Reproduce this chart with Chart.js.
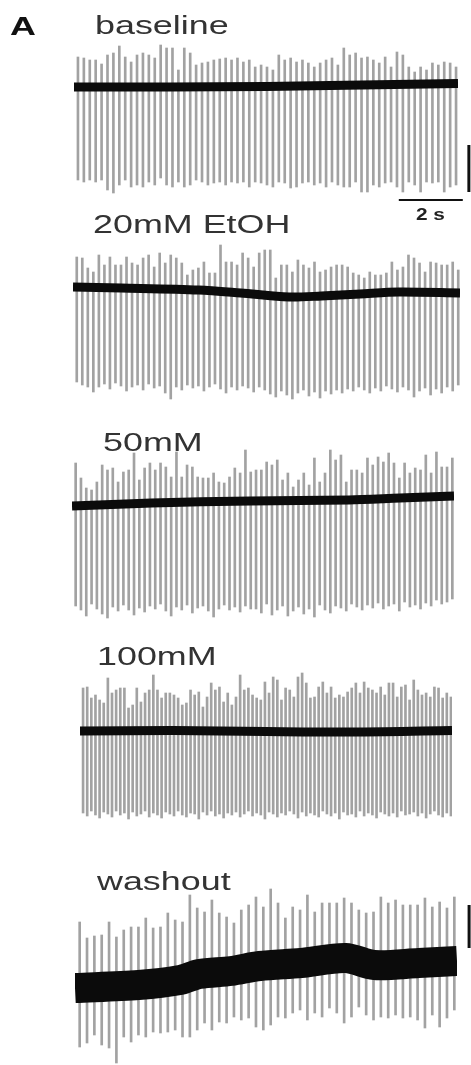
<!DOCTYPE html>
<html>
<head>
<meta charset="utf-8">
<script src="https://cdn.jsdelivr.net/npm/chart.js@4.4.0/dist/chart.umd.min.js"></script>
<style>
  html, body { margin: 0; padding: 0; background: #fff; }
  body { position: relative; width: 471px; height: 1065px; overflow: hidden; font-family: "Liberation Sans", Arial, sans-serif; }
  canvas { position: absolute; left: 0; }
  .lbl { position: absolute; z-index: 2; font-size: 26px; line-height: 26px; color: #333; white-space: nowrap; transform: scaleX(1.38); transform-origin: 0 0; }
  .panel { font-weight: bold; color: #111; }
  .bar-lbl { font-size: 16px; line-height: 16px; font-weight: bold; color: #222; transform: scaleX(1.3); }
</style>
</head>
<body>
<div class="lbl panel" style="left:10px;top:13px">A</div>
<div class="lbl" style="left:95px;top:12px">baseline</div>
<div class="lbl" style="left:93px;top:211px">20mM EtOH</div>
<div class="lbl" style="left:103px;top:429px">50mM</div>
<div class="lbl" style="left:97px;top:643px">100mM</div>
<div class="lbl" style="left:97px;top:868px">washout</div>
<div class="lbl bar-lbl" style="left:416px;top:207px">2 s</div>

<canvas id="trace0"></canvas>
<canvas id="trace1"></canvas>
<canvas id="trace2"></canvas>
<canvas id="trace3"></canvas>
<canvas id="trace4"></canvas>

<script>
// each sweep is 12 s long, amplitudes in a.u. (0 = resting level at sweep start)
const SWEEP = 12;

// baseline
const baseUp = [30,29,27,27,23,32,34,41,30,25, 32,34,32,29,42,39,39,17,39,34, 22,24,25,27,28,29,27,29,25,27,
  20,22,20,17,32,27,29,25,27,24, 20,24,27,29,22,39,32,34,29,30, 27,24,30,20,35,32,20,15,20,17, 24,22,25,24,20];
const baseDown = [-93,-95,-93,-95,-93,-103,-106,-98,-93,-100, -98,-100,-95,-98,-91,-98,-100,-95,-100,-98,
  -93,-95,-98,-96,-95,-98,-95,-96,-95,-100, -95,-96,-98,-100,-95,-96,-101,-100,-96,-95,
  -98,-96,-100,-95,-98,-100,-100,-95,-105,-105, -98,-100,-96,-95,-100,-105,-95,-98,-105,-95, -96,-95,-105,-100,-98];
const baseDriftT = [0, 3, 6, 9, 12];
const baseDriftV = [0, 0, 0.5, 2, 3.5];

// 20 mM EtOH
const e20Up = [30,29,19,15,32,22,30,22,22,30, 24,22,29,32,20,34,24,32,29,24, 12,17,19,25,14,14,42,25,25,22,
  34,29,20,34,37,37,9,22,22,15, 27,22,19,25,15,17,20,22,22,20, 14,12,9,15,12,12,14,25,17,20, 32,29,24,15,25,24,22,22,25,17];
const e20Down = [-95,-98,-100,-105,-100,-97,-102,-96,-99,-104, -100,-98,-103,-97,-101,-99,-106,-112,-100,-103,
  -98,-101,-99,-104,-100,-97,-102,-106,-100,-103, -99,-101,-105,-100,-103,-107,-110,-104,-108,-112,
  -106,-103,-109,-105,-111,-104,-107,-103,-106,-102, -104,-100,-103,-106,-101,-104,-99,-102,-105,-100,
  -103,-110,-104,-101,-108,-102,-106,-100,-104,-98];
const e20DriftT = [0, 1.5, 3.9, 5.2, 6.7, 7.7, 8.9, 10.1, 12];
const e20DriftV = [0, -1, -3, -6, -10, -9, -7, -5, -6];

// 50 mM
const e50Up = [43,28,18,16,24,41,36,38,24,34, 36,53,26,38,43,36,43,39,29,54, 29,41,39,29,28,28,33,24,23,29,
  38,33,56,34, 36,36,44,41,46,26, 33,19,26,33,21,48,24,33,56,46, 51,24,36,36,33,48,41,49,44,53,
  43,28,43,33,38,36,51,33,54,39, 39,48];
const e50Down = [-100,-104,-110,-98,-103,-108,-112,-101,-105,-99, -104,-109,-102,-106,-100,-103,-98,-105,-110,-101,
  -104,-99,-107,-102,-100,-105,-111,-103,-99,-104, -101,-106,-100,-103, -103,-107,-98,-109,-104,-100,
  -110,-105,-101,-108,-103,-111,-99,-104,-107,-100, -102,-105,-98,-101,-104,-99,-102,-97,-103,-100,
  -98,-105,-96,-101,-99,-103,-97,-100,-94,-98, -96,-93];
const e50DriftT = [0, 2.5, 5.6, 8.7, 10.3, 12];
const e50DriftV = [0, 3, 5, 6, 8, 10];

// 100 mM
const e100Up = [43,44,33,36,31,28,53,38,41,43, 43,23,26,43,29,38,41,56,41,33, 38,38,36,33,26,28,41,36,39,24,
  34,48,41,44,29,38,26,34,56,41, 43,36,33, 31,49,38,54,51,31,43, 41,34,54,58,48,33,34,44,49,38,
  44,33,36,34,39,43,48,38,49,43, 41,38,44,36,48,48,34,44,46,31, 51,41,36,38,34,44,43,33,38,34];
const e100Down = [-82,-85,-80,-84,-87,-81,-83,-86,-80,-84, -82,-88,-81,-85,-83,-80,-86,-82,-84,-87,
  -81,-83,-85,-80,-84,-86,-82,-83,-88,-81, -84,-80,-85,-83,-87,-82,-84,-81,-86,-83,
  -80,-85,-82,-84,-88,-81,-83,-86,-82,-84, -80,-83,-87,-81,-85,-82,-84,-86,-80,-83,
  -85,-82,-88,-81,-84,-83,-86,-80,-85,-82, -84,-87,-81,-83,-85,-82,-86,-80,-84,-83,
  -81,-85,-82,-87,-83,-80,-84,-86,-82,-85];
const e100DriftT = [0, 3, 6, 9, 12];
const e100DriftV = [0, 0.5, -0.5, -1, 0.5];

// washout
const washUp = [66,50,52,53,66,51,58,61,61,70, 60,61,75,68,66,93,80,76,88,75, 71,65,78,83,91,81,99,85,70,81,
  78,93,76,85,85,85,90,85,78,75, 76,91,85,88,83,83,83,90,81,86, 80,91];
const washDown = [-59,-55,-47,-57,-60,-75,-49,-54,-47,-49, -44,-45,-44,-42,-49,-49,-42,-35,-42,-34,
  -35,-29,-32,-30,-39,-42,-37,-29,-30,-25, -22,-32,-25,-29,-20,-25,-35,-29,-19,-27,
  -32,-29,-30,-27,-30,-29,-32,-40,-27,-39, -30,-22];
const washDriftT = [0, 2, 3.3, 3.9, 4.9, 5.8, 7.1, 8.5, 9.4, 10.8, 12];
const washDriftV = [0, 3, 8, 14, 17, 22, 25, 30, 23, 25, 27];

// scale bars: 2 s horizontal, vertical amplitude bar
const timeBarT = [10.15, 12.15];
const ampBarTop = [-58, -105];
const ampBarWash = [83, 40];

// where each sweep sits on the page (1 a.u. = 1 px)
const layout = [
  { top: 37,  yMax: 50,  yMin: -140, left: 74, right: 458, band: 9 },
  { top: 237, yMax: 50,  yMin: -125, left: 73, right: 460, band: 9 },
  { top: 441, yMax: 65,  yMin: -120, left: 72, right: 454, band: 9 },
  { top: 666, yMax: 65,  yMin: -100, left: 80, right: 452, band: 9 },
  { top: 883, yMax: 105, yMin: -85,  left: 75, right: 457, band: 30 }
];

function pts(xs, ys) {
  return xs.map((x, k) => ({ x: x, y: ys[k] }));
}

function drawTrace(i, up, down, driftT, driftV, extra) {
  const L = layout[i];
  const cv = document.getElementById('trace' + i);
  cv.width = 471;
  cv.height = L.yMax - L.yMin;
  cv.style.top = L.top + 'px';

  const datasets = [
    {
      type: 'line', xAxisID: 't', data: pts(driftT, driftV),
      borderColor: '#0b0b0b', borderWidth: L.band, pointRadius: 0,
      tension: 0.3, borderCapStyle: 'butt', order: 0
    },
    {
      type: 'bar', data: up.map((v, k) => [down[k], v]),
      backgroundColor: '#a2a2a2', barThickness: 2, order: 1
    }
  ].concat(extra || []);

  new Chart(cv, {
    type: 'bar',
    data: { labels: up.map((_, k) => k + 1), datasets: datasets },
    options: {
      responsive: false,
      animation: false,
      events: [],
      layout: { padding: { left: L.left, right: 471 - L.right, top: 0, bottom: 0 } },
      plugins: { legend: { display: false }, tooltip: { enabled: false } },
      scales: {
        x: { display: false },
        t: { type: 'linear', axis: 'x', position: 'bottom', offset: false, grid: { offset: false }, min: 0, max: SWEEP, display: false },
        y: { display: false, min: L.yMin, max: L.yMax }
      }
    }
  });
}

function scaleBar(xs, ys, w) {
  return { type: 'line', xAxisID: 't', data: pts(xs, ys), borderColor: '#111', borderWidth: w, pointRadius: 0, clip: false, order: 0 };
}

drawTrace(0, baseUp, baseDown, baseDriftT, baseDriftV, [
  scaleBar(timeBarT, [-113, -113], 2),
  scaleBar([12.34, 12.34], ampBarTop, 3)
]);
drawTrace(1, e20Up, e20Down, e20DriftT, e20DriftV);
drawTrace(2, e50Up, e50Down, e50DriftT, e50DriftV);
drawTrace(3, e100Up, e100Down, e100DriftT, e100DriftV);
drawTrace(4, washUp, washDown, washDriftT, washDriftV, [
  scaleBar([12.38, 12.38], ampBarWash, 3)
]);
</script>
</body>
</html>
